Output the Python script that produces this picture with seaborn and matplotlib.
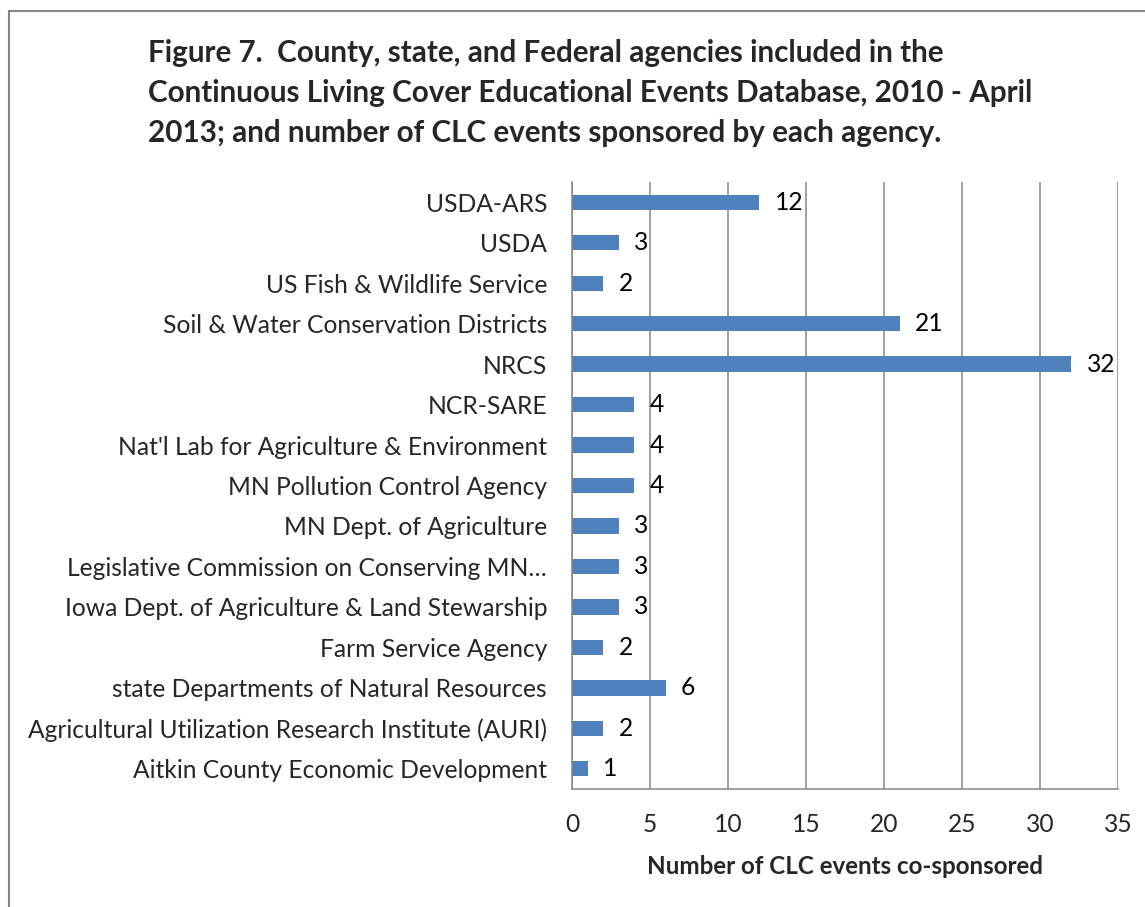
import matplotlib
matplotlib.use("Agg")
import matplotlib.pyplot as plt
from matplotlib.patches import Rectangle
import seaborn as sns
import pandas as pd

# Data (top to bottom)
agencies = [
    "USDA-ARS",
    "USDA",
    "US Fish & Wildlife Service",
    "Soil & Water Conservation Districts",
    "NRCS",
    "NCR-SARE",
    "Nat'l Lab for Agriculture & Environment",
    "MN Pollution Control Agency",
    "MN Dept. of Agriculture",
    "Legislative Commission on Conserving MN\u2026",
    "Iowa Dept. of Agriculture & Land Stewarship",
    "Farm Service Agency",
    "state Departments of Natural Resources",
    "Agricultural Utilization Research Institute (AURI)",
    "Aitkin County Economic Development",
]
events = [12, 3, 2, 21, 32, 4, 4, 4, 3, 3, 3, 2, 6, 2, 1]
x_ticks = [0, 5, 10, 15, 20, 25, 30, 35]

title_lines = [
    "Figure 7.  County, state, and Federal agencies included in the",
    "Continuous Living Cover Educational Events Database, 2010 - April",
    "2013; and number of CLC events sponsored by each agency.",
]

df = pd.DataFrame({"agency": agencies, "events": events})

sns.set_style("white")
plt.rcParams["font.family"] = ["Lato", "DejaVu Sans"]

grey = "#868686"
fig = plt.figure(figsize=(11.45, 9.07), dpi=100)
ax = fig.add_axes([0.4996, 0.1301, 0.4768, 0.6692])

sns.barplot(data=df, x="events", y="agency", order=agencies, orient="h",
            color="#4F81BD", saturation=1, width=0.38, linewidth=0, ax=ax)

# data labels
for i, v in enumerate(events):
    ax.annotate(str(v), xy=(v, i), xytext=(11, 0), textcoords="offset points",
                ha="left", va="center", fontsize=17.7, color="black")

ax.set_xlim(0, 35)
ax.set_ylim(len(agencies) - 0.5, -0.5)
ax.set_xticks(x_ticks)
ax.set_xticklabels([str(t) for t in x_ticks], fontsize=17.7)
ax.xaxis.grid(True, color=grey, linewidth=1.1)
ax.yaxis.grid(False)
ax.set_axisbelow(True)

# category boundary tick marks on the y axis
ax.set_yticks([i - 0.5 for i in range(len(agencies) + 1)], minor=True)
ax.tick_params(axis="y", which="major", length=0, pad=18, labelsize=17.7)
ax.tick_params(axis="y", which="minor", length=5, width=1.1, color=grey, direction="out")
ax.tick_params(axis="x", which="major", length=6, width=1.1, color=grey,
               direction="out", pad=11)

for s in ["top", "right"]:
    ax.spines[s].set_visible(False)
for s in ["left", "bottom"]:
    ax.spines[s].set_color(grey)
    ax.spines[s].set_linewidth(1.1)

ax.set_ylabel("")
ax.set_xlabel("Number of CLC events co-sponsored", fontsize=17.4,
              fontweight="bold", labelpad=14)

# title lines, left aligned
for k, line in enumerate(title_lines):
    fig.text(148 / 1145, 1 - (62 + 40 * k) / 907, line, ha="left",
             va="baseline", fontsize=21.3, fontweight="bold")

# chart border
fig.patches.append(Rectangle((9 / 1145, -0.05), 1.2, 1 - 11 / 907 + 0.05,
                             transform=fig.transFigure, fill=False,
                             edgecolor=grey, linewidth=1.5))

fig.savefig("out.png", dpi=100)
